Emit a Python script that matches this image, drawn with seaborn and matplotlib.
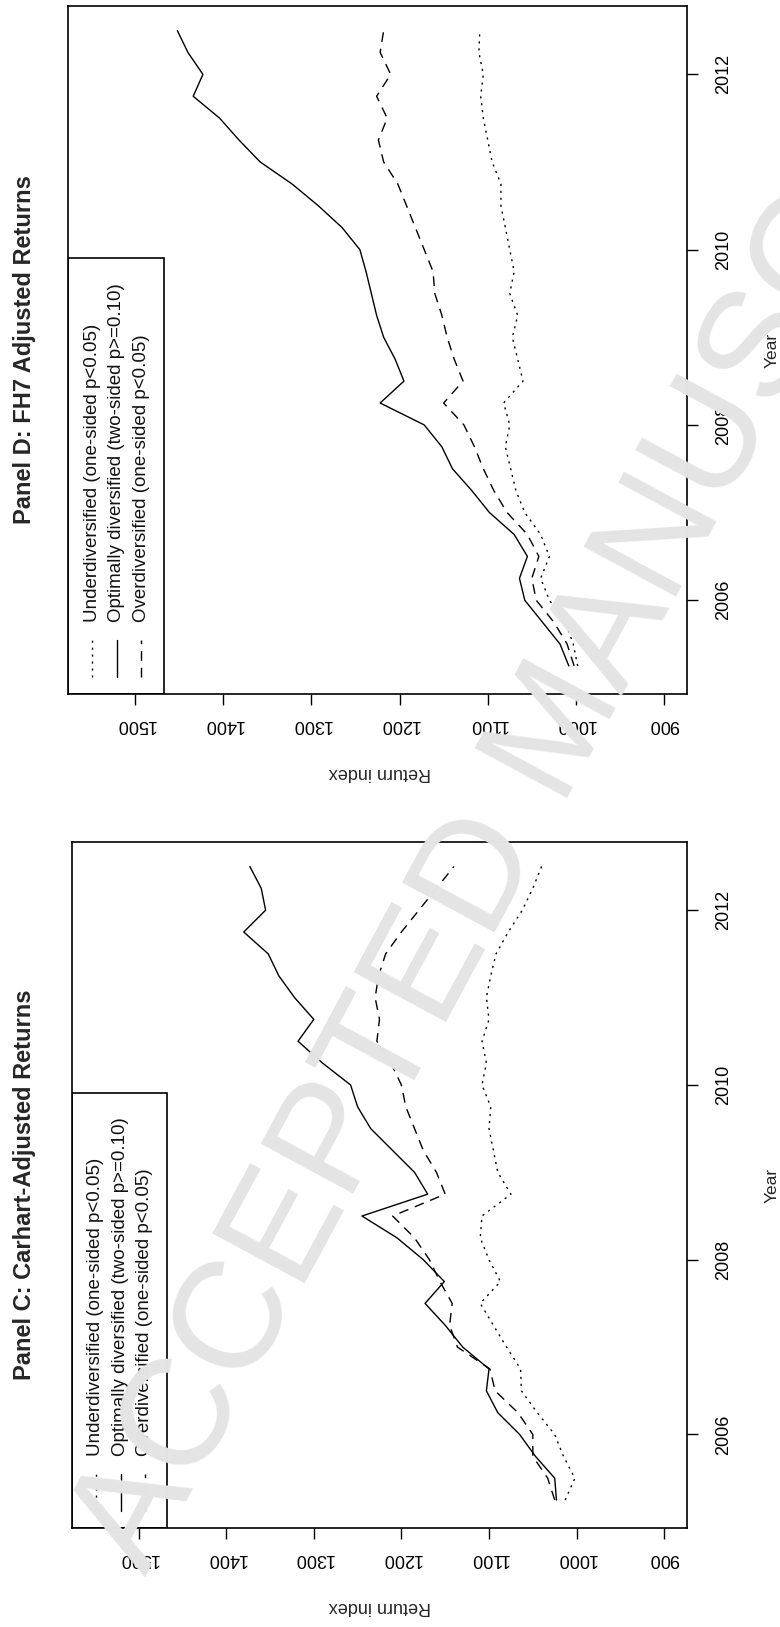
import numpy as np
import pandas as pd
import matplotlib
matplotlib.use("Agg")
import matplotlib.pyplot as plt
import seaborn as sns
from matplotlib.patches import Rectangle

# quarterly readings of the return index
years = [2005.25, 2005.5, 2005.75, 2006.0, 2006.25, 2006.5, 2006.75, 2007.0, 2007.25, 2007.5,
         2007.75, 2008.0, 2008.25, 2008.5, 2008.75, 2009.0, 2009.25, 2009.5, 2009.75, 2010.0,
         2010.25, 2010.5, 2010.75, 2011.0, 2011.25, 2011.5, 2011.75, 2012.0, 2012.25, 2012.5]

# Panel C: Carhart
under_c = [1013, 1002, 1015, 1025, 1045, 1063, 1064, 1080, 1095, 1110, 1087, 1100, 1110, 1108, 1075,
           1090, 1095, 1100, 1098, 1108, 1103, 1108, 1100, 1103, 1098, 1092, 1078, 1062, 1050, 1040]
optimal_c = [1023, 1025, 1047, 1065, 1090, 1103, 1100, 1130, 1150, 1173, 1151, 1175, 1205, 1245, 1170,
             1185, 1210, 1235, 1250, 1258, 1290, 1318, 1300, 1322, 1340, 1352, 1380, 1355, 1360, 1373]
over_c = [1025, 1033, 1050, 1050, 1067, 1093, 1099, 1136, 1145, 1142, 1156, 1168, 1185, 1210, 1150,
          1160, 1175, 1185, 1195, 1200, 1212, 1228, 1225, 1230, 1226, 1218, 1200, 1180, 1160, 1140]

# Panel D: FH7
under_d = [998, 1003, 1012, 1030, 1040, 1030, 1040, 1058, 1068, 1074, 1080, 1075, 1082, 1060, 1066,
           1072, 1066, 1075, 1070, 1075, 1080, 1085, 1085, 1095, 1100, 1105, 1108, 1105, 1110, 1109]
optimal_d = [1008, 1018, 1038, 1058, 1064, 1055, 1070, 1098, 1118, 1140, 1152, 1172, 1222, 1195, 1205,
             1218, 1226, 1232, 1238, 1245, 1265, 1292, 1322, 1358, 1382, 1404, 1434, 1423, 1440, 1452]
over_d = [1002, 1010, 1025, 1045, 1050, 1042, 1055, 1078, 1093, 1105, 1115, 1127, 1150, 1128, 1138,
          1146, 1152, 1160, 1162, 1172, 1182, 1192, 1202, 1218, 1224, 1214, 1226, 1210, 1222, 1218]

groups = ["Underdiversified (one-sided p<0.05)",
          "Optimally diversified (two-sided p>=0.10)",
          "Overdiversified (one-sided p<0.05)"]
titles = ["Panel D: FH7 Adjusted Returns", "Panel C: Carhart-Adjusted Returns"]
return_ticks = [900, 1000, 1100, 1200, 1300, 1400, 1500]
year_ticks = [2006, 2008, 2010, 2012]

sns.set_style("white")
plt.rcParams["font.family"] = ["Liberation Sans", "DejaVu Sans"]

dash_map = {groups[0]: (1.5, 3.5), groups[1]: "", groups[2]: (7, 5)}


def make_frame(under, optimal, over):
    rows = []
    for name, vals in zip(groups, [under, optimal, over]):
        for y, v in zip(years, vals):
            rows.append({"year": y, "value": v, "group": name})
    return pd.DataFrame(rows)


def draw_panel(ax, df):
    sns.lineplot(data=df, x="value", y="year", style="group", style_order=groups,
                 dashes=dash_map, color="black", linewidth=1.0, sort=False,
                 estimator=None, legend=False, ax=ax)
    ax.set_xlim(1576, 874)
    ax.set_ylim(2004.93, 2012.78)
    ax.set_xticks(return_ticks)
    ax.set_yticks(year_ticks)
    ax.yaxis.tick_right()
    ax.set_xlabel("")
    ax.set_ylabel("")
    for s in ax.spines.values():
        s.set_visible(True)
        s.set_color("black")
        s.set_linewidth(1.2)
    ax.tick_params(axis="both", direction="out", length=8, width=1.0, color="black",
                   labelsize=13, labelcolor="black")
    ax.tick_params(axis="x", labelrotation=180, pad=8, bottom=True)
    ax.tick_params(axis="y", labelrotation=90, pad=12, right=True, left=False)
    for lbl in ax.get_yticklabels():
        lbl.set_va("center")

    # legend box in the lower-left corner
    w, h = 0.155, 0.634
    ax.add_patch(Rectangle((0, 0), w, h, transform=ax.transAxes, fill=False,
                           edgecolor="black", linewidth=1.2, zorder=5))
    xs = [0.039, 0.079, 0.118]
    for xf, g in zip(xs, groups):
        d = dash_map[g]
        ln, = ax.plot([xf, xf], [0.025, 0.079], transform=ax.transAxes, color="black",
                      linewidth=1.0)
        if d:
            ln.set_dashes(d)
        ax.text(xf, 0.105, g, transform=ax.transAxes, rotation=90, ha="center",
                va="bottom", fontsize=13.5, color="#111111")


fig = plt.figure(figsize=(7.8, 16.27), dpi=100)
W, H = 780, 1627
ax_d = fig.add_axes([68 / W, 1 - 694 / H, (687 - 68) / W, 688 / H])
ax_c = fig.add_axes([72 / W, 1 - 1528 / H, (687 - 72) / W, 686 / H])

draw_panel(ax_d, make_frame(under_d, optimal_d, over_d))
draw_panel(ax_c, make_frame(under_c, optimal_c, over_c))

for title, top, bottom in zip(titles, [6, 842], [694, 1528]):
    mid = (top + bottom) / 2
    fig.text(25 / W, 1 - mid / H, title, rotation=90, ha="center", va="center",
             fontsize=17, fontweight="bold")
    fig.text(772 / W, 1 - mid / H, "Year", rotation=90, ha="center", va="center",
             fontsize=12.5)
    fig.text(380 / W, 1 - (bottom + 79) / H, "Return index", rotation=180,
             ha="center", va="center", fontsize=13)

# watermark, cut by the right edge as in the source page
fig.text(560 / W, 1 - 730 / H, "ACCEPTED MANUSCRIPT", rotation=61.6, ha="center",
         va="center", fontsize=110, color="#e4e4e4", zorder=10)

fig.savefig("out.png", dpi=100)
